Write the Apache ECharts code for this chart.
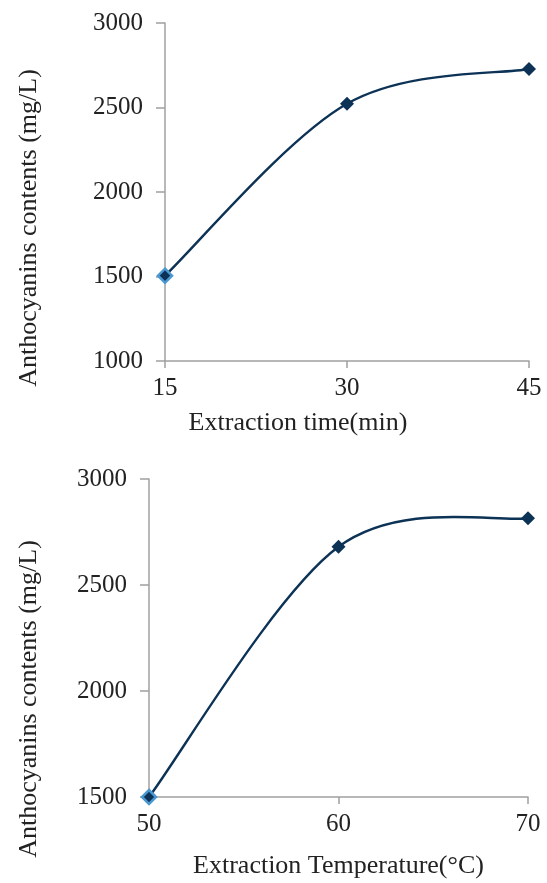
<!DOCTYPE html>
<html><head><meta charset="utf-8">
<script src="https://cdn.jsdelivr.net/npm/echarts@6/dist/echarts.min.js"></script>
<style>html,body{margin:0;padding:0;background:#fff}#c{width:547px;height:883px}</style>
</head><body><div id="c"></div>
<script>
const timeX = [15, 30, 45];
const timeY = [1505, 2522, 2728];
const tempX = [50, 60, 70];
const tempY = [1500, 2680, 2815];
const yName = 'Anthocyanins contents (mg/L)';
const xName1 = 'Extraction time(min)';
const xName2 = 'Extraction Temperature(°C)';

const FONT = 'Liberation Serif';
const axisGray = '#A0A0A0';
const lineCol = '#0C3256';
const txt = '#222';

function pairs(xs, ys) { return xs.map((x, i) => [x, ys[i]]); }

// Excel-style smoothed segment (Bezier with 1/6 tangents), computed in pixel space via the axes
function smoothRenderer(xs, ys) {
  return function (params, api) {
    const i = params.dataIndex;
    const n = xs.length;
    if (i >= n - 1) return null;
    const P = xs.map((x, k) => api.coord([x, ys[k]]));
    const p1 = P[i], p2 = P[i + 1];
    const p0 = i > 0 ? P[i - 1] : p1;
    const p3 = i + 2 < n ? P[i + 2] : p2;
    const d = (a, b) => Math.hypot(a[0] - b[0], a[1] - b[1]);
    const d12 = d(p1, p2), d02 = d(p0, p2), d13 = d(p1, p3);
    const f0 = d02 > 0 ? Math.min(1 / 6, d12 / 2 / d02) : 0;
    const f1 = d13 > 0 ? Math.min(1 / 6, d12 / 2 / d13) : 0;
    return {
      type: 'bezierCurve',
      shape: {
        x1: p1[0], y1: p1[1], x2: p2[0], y2: p2[1],
        cpx1: p1[0] + f0 * (p2[0] - p0[0]), cpy1: p1[1] + f0 * (p2[1] - p0[1]),
        cpx2: p2[0] - f1 * (p3[0] - p1[0]), cpy2: p2[1] - f1 * (p3[1] - p1[1])
      },
      style: {stroke: lineCol, lineWidth: 2.4, fill: null, lineCap: 'round'}
    };
  };
}
function markers(xs, ys) {
  return xs.map((x, i) => i === 0
    ? {value: [x, ys[i]], itemStyle: {color: '#0C3256', borderColor: '#4A97D2', borderWidth: 2.5}}
    : [x, ys[i]]);
}
function xAxis(gi, min, max, iv, name, gap, pad) {
  return {
    type: 'value', gridIndex: gi, min: min, max: max, interval: iv,
    name: name, nameLocation: 'middle', nameGap: gap,
    nameTextStyle: {fontFamily: FONT, fontSize: 26, color: txt, padding: pad},
    axisLine: {show: true, lineStyle: {color: axisGray, width: 1.5}},
    axisTick: {show: true, length: 7, lineStyle: {color: axisGray, width: 1.5}},
    axisLabel: {fontFamily: FONT, fontSize: 25, color: txt, margin: 15,
                formatter: v => String(v)},
    splitLine: {show: false}
  };
}
function yAxis(gi, min, max, iv, gap, pad) {
  return {
    type: 'value', gridIndex: gi, min: min, max: max, interval: iv,
    name: yName, nameLocation: 'middle', nameGap: gap, nameRotate: 90,
    nameTextStyle: {fontFamily: FONT, fontSize: 26, color: txt, padding: pad},
    axisLine: {show: true, lineStyle: {color: axisGray, width: 1.5}},
    axisTick: {show: true, length: 9, lineStyle: {color: axisGray, width: 1.5}},
    axisLabel: {fontFamily: FONT, fontSize: 25, color: txt, margin: 22,
                formatter: v => String(v)},
    splitLine: {show: false}
  };
}
const chart = echarts.init(document.getElementById('c'));
chart.setOption({
  backgroundColor: '#fff',
  animation: false,
  grid: [
    {left: 165, top: 23, width: 364, height: 338},
    {left: 149, top: 479, width: 379, height: 318}
  ],
  xAxis: [xAxis(0, 15, 45, 15, xName1, 49, [0, 98, 0, 0]), xAxis(1, 50, 70, 10, xName2, 56, [0, 0, 0, 0])],
  yAxis: [yAxis(0, 1000, 3000, 500, 123, [0, 72, 0, 0]), yAxis(1, 1500, 3000, 500, 107, [0, 122, 0, 0])],
  series: [
    {type: 'custom', xAxisIndex: 0, yAxisIndex: 0, data: pairs(timeX, timeY),
     encode: {x: 0, y: 1}, renderItem: smoothRenderer(timeX, timeY), z: 2, clip: false},
    {type: 'custom', xAxisIndex: 1, yAxisIndex: 1, data: pairs(tempX, tempY),
     encode: {x: 0, y: 1}, renderItem: smoothRenderer(tempX, tempY), z: 2, clip: false},
    {type: 'scatter', xAxisIndex: 0, yAxisIndex: 0, data: markers(timeX, timeY),
     symbol: 'diamond', symbolSize: 14, itemStyle: {color: lineCol, opacity: 1}, z: 3},
    {type: 'scatter', xAxisIndex: 1, yAxisIndex: 1, data: markers(tempX, tempY),
     symbol: 'diamond', symbolSize: 14, itemStyle: {color: lineCol, opacity: 1}, z: 3}
  ]
});
</script></body></html>
